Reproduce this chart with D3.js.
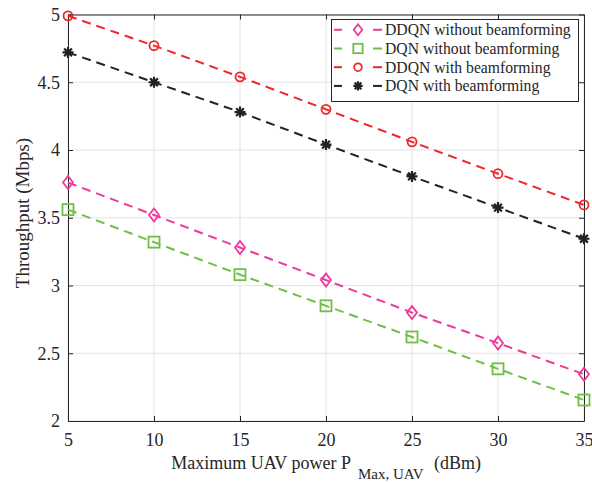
<!DOCTYPE html>
<html><head><meta charset="utf-8">
<script src="https://cdn.jsdelivr.net/npm/d3@7"></script>
<style>body{margin:0;background:#fff}</style>
</head><body><svg id="c" width="592" height="483"></svg>
<script>
const powers = [5, 10, 15, 20, 25, 30, 35];
const ddqnWithout = [3.76, 3.52, 3.28, 3.04, 2.80, 2.575, 2.345];
const dqnWithout = [3.56, 3.32, 3.08, 2.85, 2.62, 2.385, 2.155];
const ddqnWith = [4.99, 4.77, 4.54, 4.30, 4.06, 3.825, 3.595];
const dqnWith = [4.72, 4.50, 4.28, 4.04, 3.805, 3.575, 3.345];
const xTicks = [5, 10, 15, 20, 25, 30, 35];
const yTicks = [2, 2.5, 3, 3.5, 4, 4.5, 5];
const seriesNames = ["DDQN without beamforming", "DQN without beamforming", "DDQN with beamforming", "DQN with beamforming"];
const seriesColors = ["#ec3a9a", "#6fbe45", "#f0262a", "#222222"];
const seriesMarkers = ["diamond", "square", "circle", "star"];
const seriesData = [ddqnWithout, dqnWithout, ddqnWith, dqnWith];

const FONT = "'Liberation Serif', 'Times New Roman', Times, serif";
const svg = d3.select("#c").style("font-family", FONT);
const L = 68, R = 584, T = 14.5, B = 421;
const x = d3.scaleLinear().domain([5, 35]).range([L, R]);
const y = d3.scaleLinear().domain([2, 5]).range([B, T]);

// grid
const g = svg.append("g");
g.selectAll(".gx").data(xTicks).join("line").attr("x1", d => x(d)).attr("x2", d => x(d)).attr("y1", T).attr("y2", B).attr("stroke", "#e3e3e3").attr("stroke-width", 1);
g.selectAll(".gy").data(yTicks).join("line").attr("y1", d => y(d)).attr("y2", d => y(d)).attr("x1", L).attr("x2", R).attr("stroke", "#e3e3e3").attr("stroke-width", 1);

// axes
const ax = svg.append("g").attr("transform", `translate(0,${B})`).call(d3.axisBottom(x).tickValues(xTicks).tickSizeInner(-5).tickSizeOuter(0).tickPadding(12));
const ay = svg.append("g").attr("transform", `translate(${L},0)`).call(d3.axisLeft(y).tickValues(yTicks).tickFormat(d3.format("")).tickSizeInner(-5).tickSizeOuter(0).tickPadding(8));
const axT = svg.append("g").attr("transform", `translate(0,${T})`).call(d3.axisTop(x).tickValues(xTicks).tickSizeInner(-5).tickSizeOuter(0).tickFormat(""));
const ayR = svg.append("g").attr("transform", `translate(${R},0)`).call(d3.axisRight(y).tickValues(yTicks).tickSizeInner(-5).tickSizeOuter(0).tickFormat(""));
[ax, ay, axT, ayR].forEach(a => {
  a.attr("font-family", FONT).attr("font-size", 18);
  a.selectAll("path,line").attr("stroke", "#262626").attr("stroke-width", 1);
  a.selectAll("text").attr("fill", "#262626").attr("font-family", FONT).attr("font-size", 18);
});

// labels
svg.append("text").attr("transform", `translate(28.5,213) rotate(-90)`).attr("text-anchor", "middle").attr("font-size", 19).attr("fill", "#262626").text("Throughput (Mbps)");
svg.append("text").attr("x", 351).attr("y", 469).attr("text-anchor", "end").attr("font-size", 18).attr("fill", "#262626").text("Maximum UAV power P");
svg.append("text").attr("x", 358).attr("y", 479).attr("font-size", 15).attr("fill", "#262626").text("Max, UAV");
svg.append("text").attr("x", 434).attr("y", 469).attr("font-size", 18).attr("fill", "#262626").text("(dBm)");

function marker(sel, type, color, s) {
  s = s || 1;
  if (type === "circle") sel.append("circle").attr("r", 4.5 * s).attr("fill", "none").attr("stroke", color).attr("stroke-width", 1.8);
  else if (type === "square") sel.append("rect").attr("x", -5.5 * s).attr("y", -5.5 * s).attr("width", 11 * s).attr("height", 11 * s).attr("fill", "none").attr("stroke", color).attr("stroke-width", 1.8);
  else if (type === "diamond") sel.append("path").attr("d", `M0,${-6.5 * s}L${5 * s},0L0,${6.5 * s}L${-5 * s},0Z`).attr("fill", "none").attr("stroke", color).attr("stroke-width", 1.8);
  else if (type === "star") {
    const r = 5.5 * s, d = r * Math.SQRT1_2;
    sel.append("path").attr("d", `M${-r},0L${r},0M0,${-r}L0,${r}M${-d},${-d}L${d},${d}M${-d},${d}L${d},${-d}`).attr("stroke", color).attr("stroke-width", 2.2);
  }
}

const line = d3.line().x((d, i) => x(powers[i])).y(d => y(d));
seriesData.forEach((vals, k) => {
  svg.append("path").datum(vals).attr("d", line).attr("fill", "none").attr("stroke", seriesColors[k]).attr("stroke-width", 2).attr("stroke-dasharray", "9,6");
  vals.forEach((v, i) => {
    const m = svg.append("g").attr("transform", `translate(${x(powers[i])},${y(v)})`);
    marker(m, seriesMarkers[k], seriesColors[k]);
  });
});

// legend
const lg = svg.append("g");
lg.append("rect").attr("x", 331.5).attr("y", 19.5).attr("width", 247).attr("height", 82).attr("fill", "#fff").attr("stroke", "#262626").attr("stroke-width", 1);
seriesNames.forEach((n, k) => {
  const yy = 29.8 + k * 18.7;
  lg.append("line").attr("x1", 334).attr("x2", 342).attr("y1", yy).attr("y2", yy).attr("stroke", seriesColors[k]).attr("stroke-width", 2);
  lg.append("line").attr("x1", 373).attr("x2", 382).attr("y1", yy).attr("y2", yy).attr("stroke", seriesColors[k]).attr("stroke-width", 2);
  const m = lg.append("g").attr("transform", `translate(358,${yy})`);
  marker(m, seriesMarkers[k], seriesColors[k], 0.85);
  lg.append("text").attr("x", 385).attr("y", yy + 5.3).attr("font-size", 15.7).attr("fill", "#262626").text(n);
});
</script></body></html>
